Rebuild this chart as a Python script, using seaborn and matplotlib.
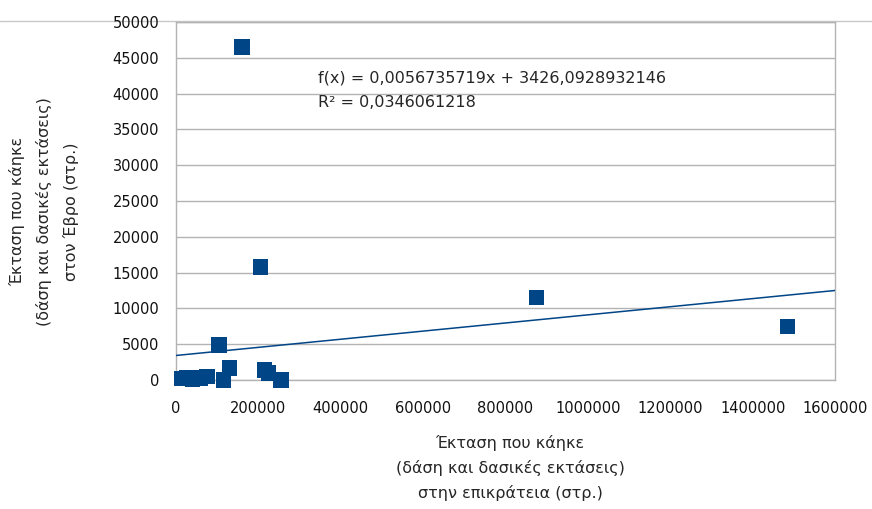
import numpy as np
import pandas as pd
import matplotlib.pyplot as plt
import seaborn as sns
from matplotlib.lines import Line2D

# Burnt area: whole country (x) vs Evros (y), in stremmata
area_country = [15000, 25000, 40000, 60000, 75000, 105000, 115000, 130000,
                160000, 205000, 215000, 225000, 255000, 875000, 1485000]
area_evros = [200, 300, 100, 300, 500, 4900, 0, 1700,
              46500, 15800, 1400, 1000, 0, 11500, 7500]

# trend line as reported by the spreadsheet
slope = 0.0056735719
intercept = 3426.0928932146
r_squared = 0.0346061218

x_ticks = [0, 200000, 400000, 600000, 800000, 1000000, 1200000, 1400000, 1600000]
y_ticks = list(range(0, 50001, 5000))

sns.set_style("white")
plt.rcParams['font.family'] = ['DejaVu Sans']

blue = '#004586'
grid_gray = '#b3b3b3'

df = pd.DataFrame({'x': area_country, 'y': area_evros})

fig = plt.figure(figsize=(8.72, 5.09), dpi=100)
ax = fig.add_axes([0.2018, 0.2534, 0.7558, 0.7034])

# trend line
trend_x = np.array([x_ticks[0], x_ticks[-1]])
trend = pd.DataFrame({'x': trend_x, 'y': slope * trend_x + intercept})
sns.lineplot(data=trend, x='x', y='y', ax=ax, color=blue, linewidth=1.1, zorder=3)

sns.scatterplot(data=df, x='x', y='y', ax=ax, marker='s', s=125, color=blue,
                edgecolor='none', linewidth=0, zorder=4, clip_on=False)

ax.set_xlim(0, 1600000)
ax.set_ylim(0, 50000)
ax.set_xticks(x_ticks)
ax.set_yticks(y_ticks)
ax.set_xticklabels([str(t) for t in x_ticks])
ax.set_yticklabels([str(t) for t in y_ticks])
ax.tick_params(axis='both', labelsize=10.5, colors='#111111', length=6,
               width=1, direction='out', color=grid_gray)
ax.tick_params(axis='y', pad=6)
ax.tick_params(axis='x', pad=9)
ax.yaxis.grid(True, color=grid_gray, linewidth=1)
ax.xaxis.grid(False)
for side in ['left', 'right', 'top', 'bottom']:
    ax.spines[side].set_color(grid_gray)
    ax.spines[side].set_linewidth(1)

ax.set_xlabel('Έκταση που κάηκε\n(δάση και δασικές εκτάσεις)\nστην επικράτεια (στρ.)',
              fontsize=11.5, linespacing=1.7, va='center', ha='center')
ax.xaxis.set_label_coords(0.507, -0.245)
ax.set_ylabel('Έκταση που κάηκε\n(δάση και δασικές εκτάσεις)\nστον Έβρο (στρ.)',
              fontsize=11.5, linespacing=1.85, va='center', ha='center')
ax.yaxis.set_label_coords(-0.2, 0.47)

eq = f'f(x) = {slope:.10f}x + {intercept:.10f}'.replace('.', ',')
ax.text(345000, 42200, eq, fontsize=11.5, va='center', ha='left')
ax.text(345000, 38700, f'R² = {r_squared:.10f}'.replace('.', ','),
        fontsize=11.5, va='center', ha='left')

# frame line running across the top of the picture
fig.add_artist(Line2D([0, 1], [0.958, 0.958], transform=fig.transFigure,
                      color='#c8c8c8', linewidth=1, zorder=0))

fig.savefig('out.png', dpi=100)
